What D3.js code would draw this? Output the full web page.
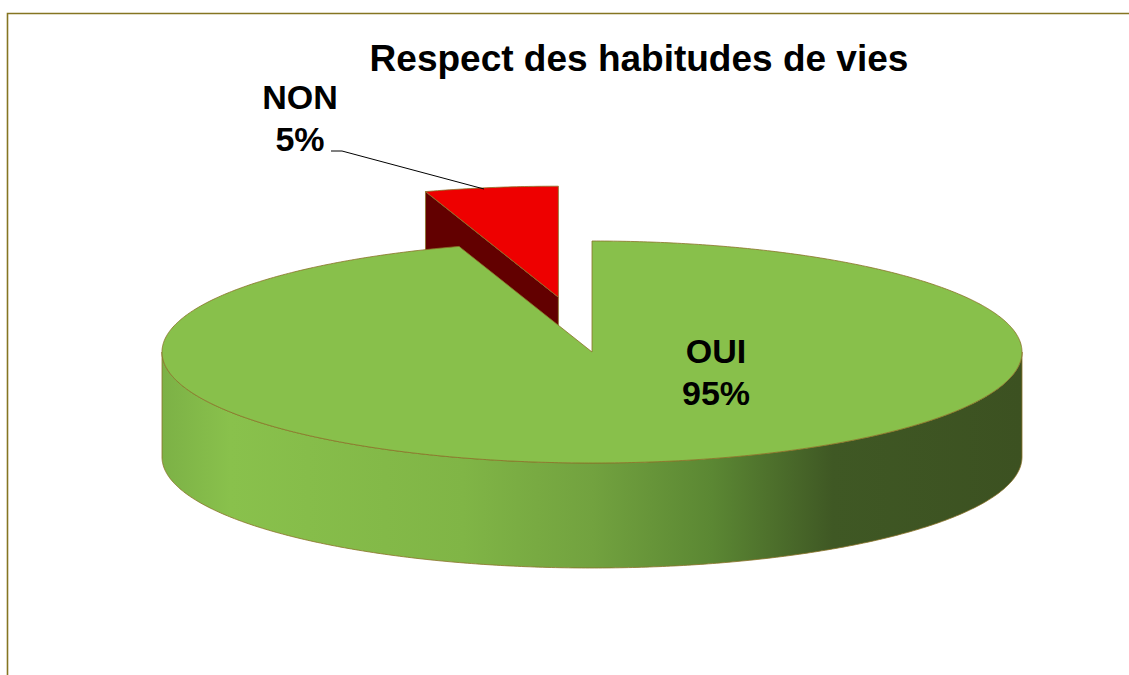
<!DOCTYPE html>
<html>
<head>
<meta charset="utf-8">
<script src="https://cdn.jsdelivr.net/npm/d3@7"></script>
<style>
  body { margin: 0; background: #fff; }
  text { font-family: "Liberation Sans", Arial, sans-serif; font-weight: bold; fill: #000; }
</style>
</head>
<body>
<div id="chart"></div>
<script>
var categories = ["OUI", "NON"];
var values = [95, 5];
var pctLabels = ["95%", "5%"];
var title = "Respect des habitudes de vies";

var svgWidth = 1129;
var svgHeight = 675;

var cx = 592, cy = 352;   // centre of the top ellipse
var rx = 430, ry = 111;   // radii of the top ellipse
var depth = 105;          // height of the wall
var explode = 0.5;        // fraction of radius the NON slice is pulled out

var topColors = ["#88c04b", "#ee0000"];
var cutColors = ["#5c8a30", "#620000"];
var edge = "#8a7228";

var svg = d3.select("#chart")
  .append("svg")
  .attr("width", svgWidth)
  .attr("height", svgHeight);

// frame
svg.append("path")
  .attr("d", "M7.5,675 L7.5,13.5 L1129,13.5")
  .attr("fill", "none")
  .attr("stroke", "#857522")
  .attr("stroke-width", 1.6);

// gradient for the front wall
var grad = svg.append("defs").append("linearGradient")
  .attr("id", "wall")
  .attr("gradientUnits", "userSpaceOnUse")
  .attr("x1", cx - rx).attr("x2", cx + rx)
  .attr("y1", 0).attr("y2", 0);
[[0, "#7cb146"], [0.08, "#89c14c"], [0.35, "#80b546"], [0.5, "#72a23f"],
 [0.64, "#5b8733"], [0.78, "#3f5824"], [1, "#3c5121"]].forEach(function(s) {
  grad.append("stop").attr("offset", s[0]).attr("stop-color", s[1]);
});

var pie = d3.pie().sort(null).startAngle(0).endAngle(2 * Math.PI);
var arcs = pie(values);

function pt(a, ox, oy, dy) {
  return [ox + rx * Math.sin(a), oy - ry * Math.cos(a) + (dy || 0)];
}

function arcPoints(a0, a1, ox, oy, dy) {
  var n = Math.max(2, Math.ceil(Math.abs(a1 - a0) / 0.01));
  return d3.range(n + 1).map(function(i) {
    return pt(a0 + (a1 - a0) * i / n, ox, oy, dy);
  });
}

var line = d3.line();

function drawSlice(d, i, pull) {
  var mid = (d.startAngle + d.endAngle) / 2;
  var ox = cx + rx * pull * Math.sin(mid);
  var oy = cy - ry * pull * Math.cos(mid);
  var g = svg.append("g");

  // cut faces: the start edge faces us when sin < 0, the end edge when sin > 0
  [[d.startAngle, -1], [d.endAngle, 1]].forEach(function(e) {
    if (Math.sin(e[0]) * e[1] < 1e-6) return;
    var p = pt(e[0], ox, oy);
    g.append("path")
      .attr("d", line([[ox, oy], p, [p[0], p[1] + depth], [ox, oy + depth]]) + "Z")
      .attr("fill", cutColors[i])
      .attr("stroke", edge)
      .attr("stroke-width", 0.8);
  });

  // front wall
  var w0 = Math.max(d.startAngle, Math.PI / 2);
  var w1 = Math.min(d.endAngle, 3 * Math.PI / 2);
  if (w1 > w0) {
    var topPts = arcPoints(w0, w1, ox, oy, 0);
    var botPts = arcPoints(w1, w0, ox, oy, depth);
    g.append("path")
      .attr("d", line(topPts.concat(botPts)) + "Z")
      .attr("fill", "url(#wall)")
      .attr("stroke", edge)
      .attr("stroke-width", 0.8);
  }

  // top face
  var pts = [[ox, oy]].concat(arcPoints(d.startAngle, d.endAngle, ox, oy, 0));
  g.append("path")
    .attr("d", line(pts) + "Z")
    .attr("fill", topColors[i])
    .attr("stroke", edge)
    .attr("stroke-width", 0.8)
    .attr("stroke-linejoin", "round");
}

// draw the back (exploded) slice first
drawSlice(arcs[1], 1, explode);
drawSlice(arcs[0], 0, 0);

// title
svg.append("text")
  .attr("x", 639)
  .attr("y", 71)
  .attr("text-anchor", "middle")
  .style("font-size", "37px")
  .text(title);

// OUI label
var oui = svg.append("text")
  .attr("text-anchor", "middle")
  .style("font-size", "34px");
oui.append("tspan").attr("x", 716).attr("y", 363).text(categories[0]);
oui.append("tspan").attr("x", 716).attr("y", 405).text(pctLabels[0]);

// NON label and leader line
var non = svg.append("text")
  .attr("text-anchor", "middle")
  .style("font-size", "34px");
non.append("tspan").attr("x", 300).attr("y", 109).text(categories[1]);
non.append("tspan").attr("x", 300).attr("y", 151).text(pctLabels[1]);

svg.append("path")
  .attr("d", line([[331, 151], [342, 151], [484, 189]]))
  .attr("fill", "none")
  .attr("stroke", "#000")
  .attr("stroke-width", 1);
</script>
</body>
</html>
